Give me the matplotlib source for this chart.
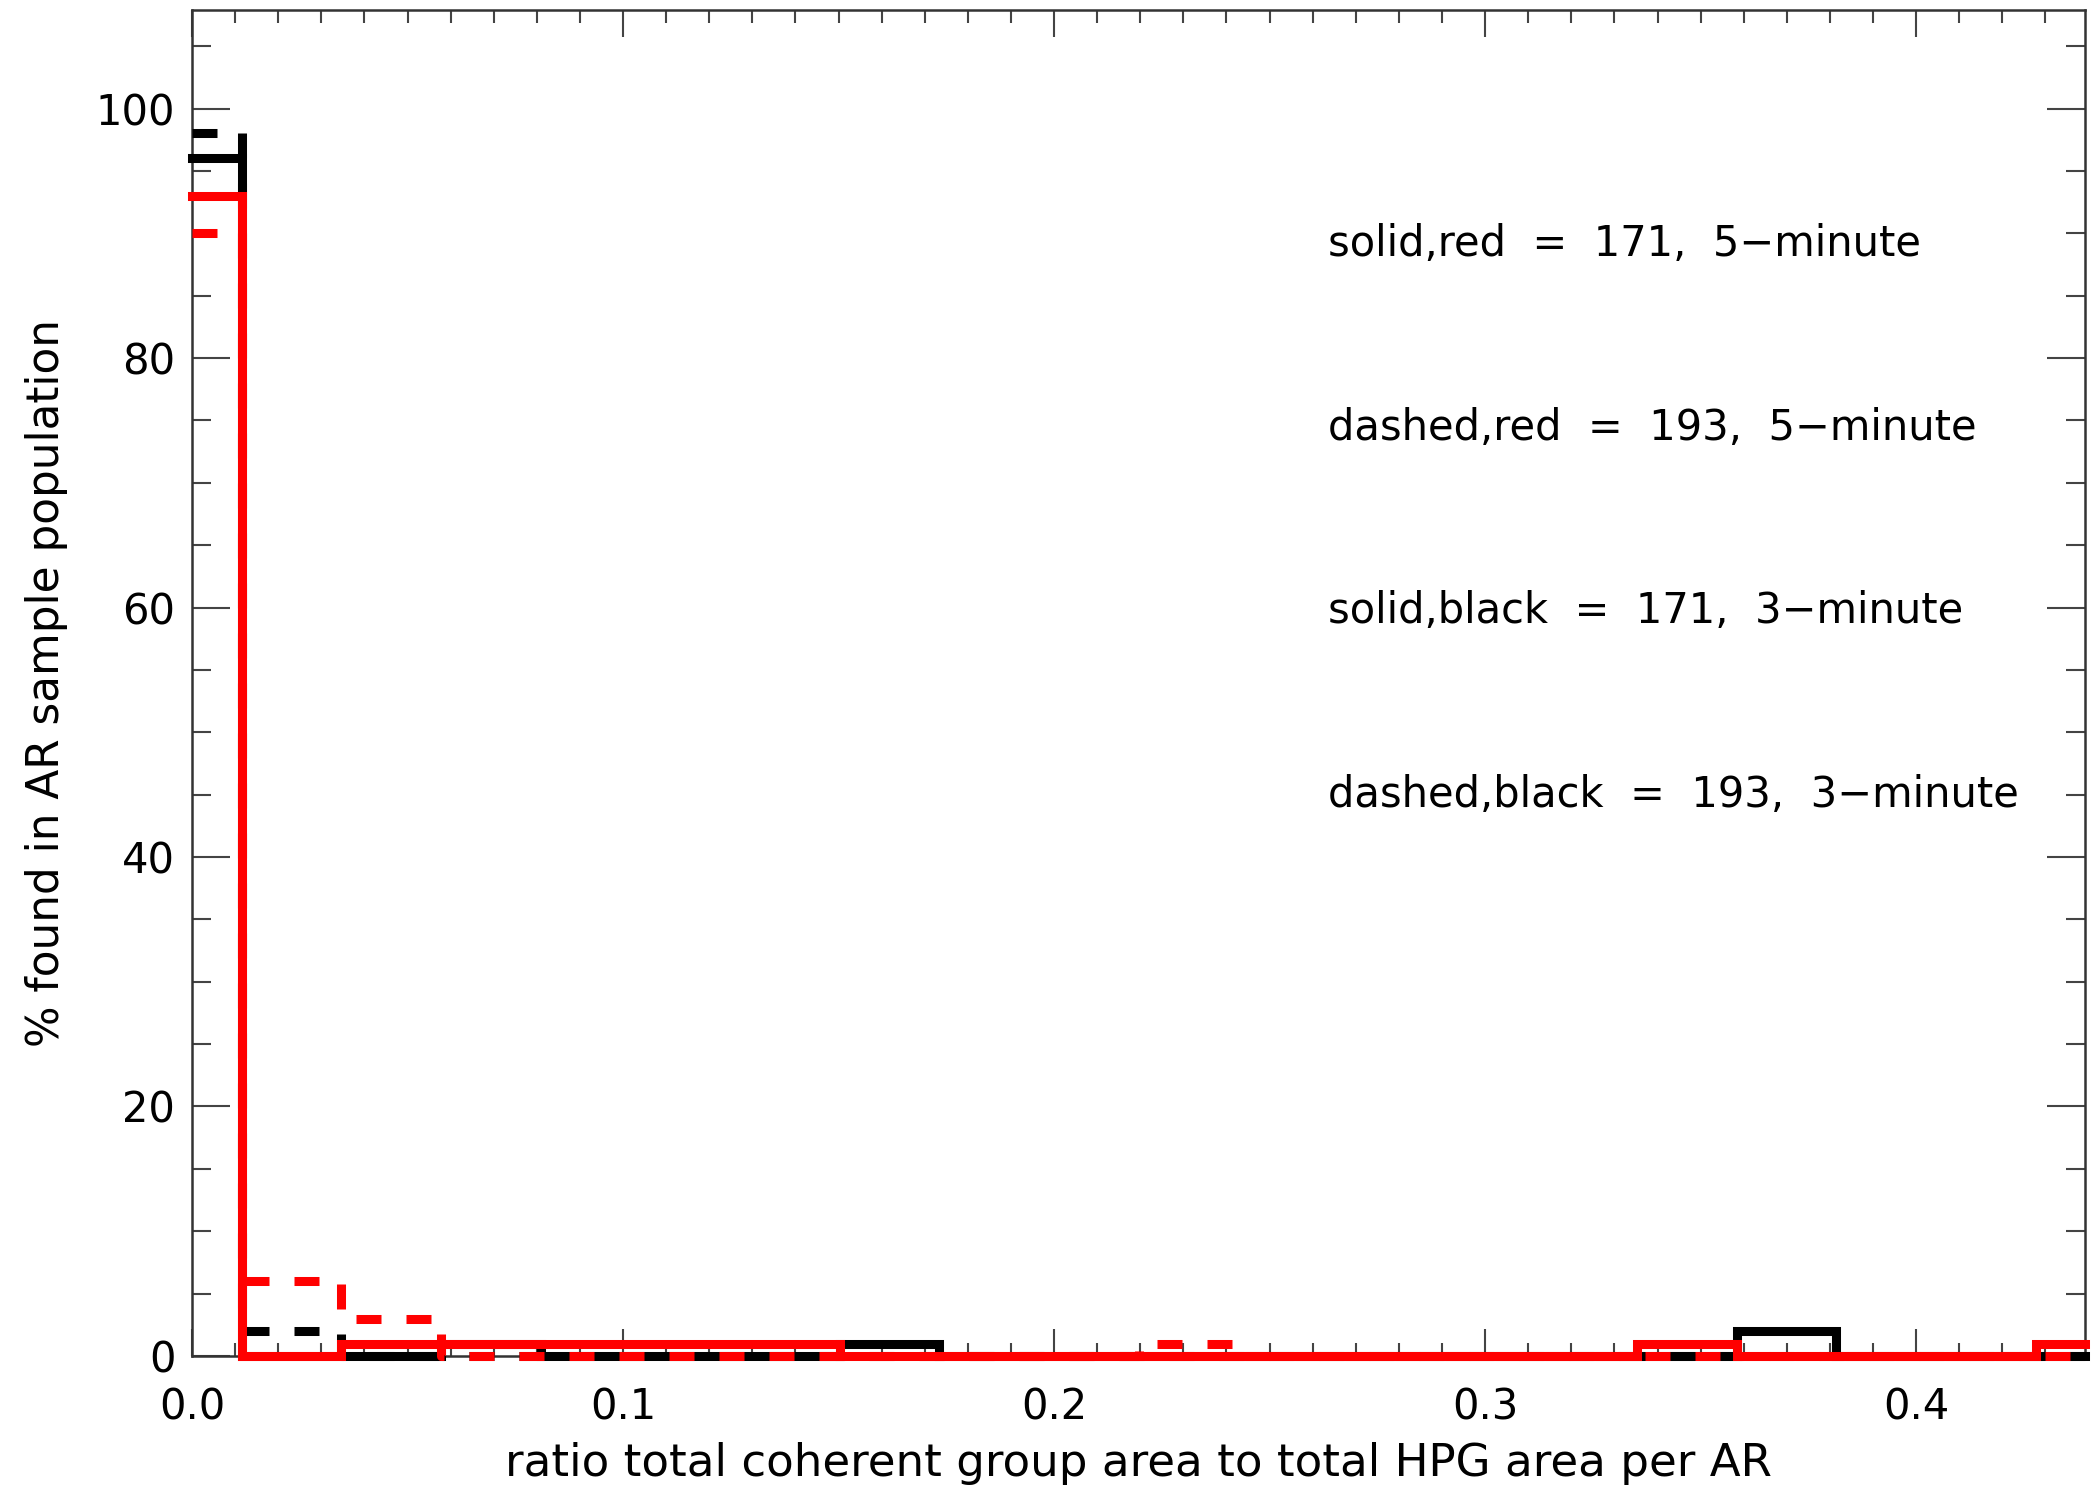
import matplotlib
matplotlib.use("Agg")
import matplotlib.pyplot as plt
from matplotlib.ticker import MultipleLocator

# Histogram bin centres (ratio) and % of AR sample population per bin
ratio_bins = [0.0, 0.02312, 0.04624, 0.06936, 0.09248, 0.1156, 0.13872,
              0.16184, 0.18496, 0.20808, 0.2312, 0.25432, 0.27744, 0.30056,
              0.32368, 0.3468, 0.36992, 0.39304, 0.41616, 0.43928]

solid_red    = [93, 0, 1, 1, 1, 1, 1, 0, 0, 0, 0, 0, 0, 0, 0, 1, 0, 0, 0, 1]   # 171, 5-minute
dashed_red   = [90, 6, 3, 0, 0, 0, 0, 0, 0, 0, 1, 0, 0, 0, 0, 0, 0, 0, 0, 0]   # 193, 5-minute
solid_black  = [96, 0, 0, 1, 0, 0, 0, 1, 0, 0, 0, 0, 0, 0, 0, 0, 2, 0, 0, 0]   # 171, 3-minute
dashed_black = [98, 2, 0, 0, 0, 0, 0, 0, 0, 0, 0, 0, 0, 0, 0, 0, 0, 0, 0, 0]   # 193, 3-minute

legend_lines = ["solid,red  =  171,  5\u2212minute",
                "dashed,red  =  193,  5\u2212minute",
                "solid,black  =  171,  3\u2212minute",
                "dashed,black  =  193,  3\u2212minute"]
legend_y = [89.1, 74.4, 59.7, 45.0]

LW = 6.5
DASH = (18, 18)
FONT = 30

plt.rcParams["font.family"] = ["DejaVu Sans"]
plt.rcParams["lines.scale_dashes"] = False

fig = plt.figure(figsize=(20.96, 14.87), dpi=100, facecolor="white")
ax = fig.add_axes([0.0916, 0.0881, 0.9032, 0.9052])

# draw order: black solid, black dashed, red dashed, red solid on top
ax.step(ratio_bins, solid_black, where="mid", color="black", lw=LW,
        solid_joinstyle="miter", clip_on=False, zorder=3)
ax.step(ratio_bins, dashed_black, where="mid", color="black", lw=LW,
        dashes=DASH, clip_on=False, zorder=4)
ax.step(ratio_bins, dashed_red, where="mid", color="red", lw=LW,
        dashes=DASH, clip_on=False, zorder=5)
ax.step(ratio_bins, solid_red, where="mid", color="red", lw=LW,
        solid_joinstyle="miter", clip_on=False, zorder=6)

for txt, y in zip(legend_lines, legend_y):
    ax.text(0.2635, y, txt, fontsize=FONT, va="center", ha="left", color="black")

ax.set_xlim(0, 0.4392)
ax.set_ylim(0, 107.9)
ax.xaxis.set_major_locator(MultipleLocator(0.1))
ax.xaxis.set_minor_locator(MultipleLocator(0.01))
ax.yaxis.set_major_locator(MultipleLocator(20))
ax.yaxis.set_minor_locator(MultipleLocator(5))
ax.xaxis.set_major_formatter(plt.FuncFormatter(lambda v, p: f"{v:.1f}"))
ax.yaxis.set_major_formatter(plt.FuncFormatter(lambda v, p: f"{v:.0f}"))

ax.tick_params(axis="both", which="both", direction="in", top=True, right=True,
               colors="#444444", width=1.5, labelcolor="black", labelsize=FONT)
ax.tick_params(axis="x", which="major", length=19.4, pad=22)
ax.tick_params(axis="x", which="minor", length=9.7)
ax.tick_params(axis="y", which="major", length=27.3, pad=12)
ax.tick_params(axis="y", which="minor", length=13.7)
for s in ax.spines.values():
    s.set_linewidth(1.8)
    s.set_color("#333333")

ax.set_xlabel("ratio total coherent group area to total HPG area per AR",
              fontsize=32.5, labelpad=10)
ax.set_ylabel("% found in AR sample population", fontsize=31.5, labelpad=20)

fig.savefig("out.png", dpi=100, facecolor="white")
plt.close(fig)
